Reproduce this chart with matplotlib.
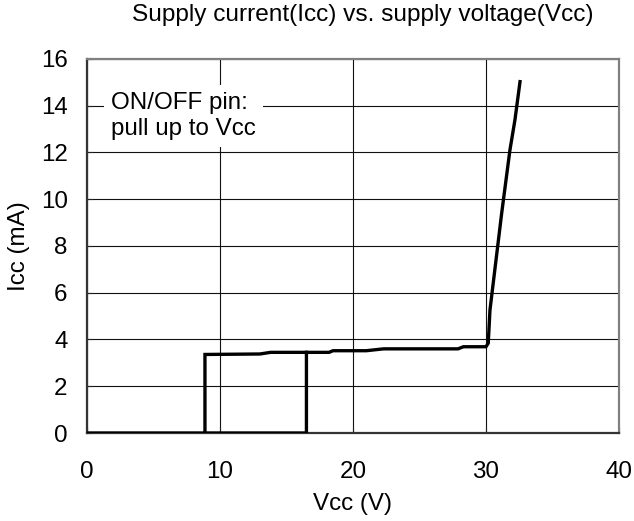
import matplotlib
matplotlib.use("Agg")
import matplotlib.pyplot as plt

plt.rcParams['font.family'] = ['Liberation Sans', 'DejaVu Sans']

# rising branch: off until 16.5 V, then on
vcc_up = [0, 16.5, 16.5, 18.2, 18.5, 21.0, 22.3, 27.9, 28.3, 30.0, 30.17, 30.3, 31.18, 31.8, 32.18, 32.56]
icc_up = [0, 0, 3.45, 3.45, 3.52, 3.52, 3.6, 3.6, 3.69, 3.69, 3.84, 5.26, 9.4, 12.1, 13.4, 15.03]

# falling branch: stays on down to 8.9 V
vcc_down = [16.5, 13.8, 13.0, 8.87, 8.87]
icc_down = [3.45, 3.45, 3.38, 3.36, 0]

fs = 17.4

fig = plt.figure(figsize=(6.34, 5.21), dpi=100)
ax = fig.add_axes([0.1372, 0.1689, 0.8391, 0.7179])

ax.plot(vcc_up, icc_up, color='black', linewidth=2.4, solid_joinstyle='miter', zorder=3)
ax.plot(vcc_down, icc_down, color='black', linewidth=2.4, solid_joinstyle='miter', zorder=3)

ax.set_xlim(0, 40)
ax.set_ylim(0, 16)
ax.set_xticks([0, 10, 20, 30, 40])
ax.set_yticks(range(0, 17, 2))
ax.grid(True, color='#111111', linewidth=0.8)
ax.set_axisbelow(True)
ax.tick_params(direction='in', length=4, labelsize=fs, color='#222222')
ax.tick_params(axis='y', pad=14)
ax.tick_params(axis='x', pad=20)

for s in ['left', 'bottom']:
    ax.spines[s].set_color('#333333')
    ax.spines[s].set_linewidth(1.6)
for s in ['top', 'right']:
    ax.spines[s].set_color('#808080')
    ax.spines[s].set_linewidth(1.6)

ax.text(1.8, 13.56, 'ON/OFF pin:\npull up to Vcc', fontsize=fs, ha='left', va='center',
        linespacing=1.25, zorder=2,
        bbox=dict(boxstyle='square,pad=0.3', facecolor='white', edgecolor='none'))

ax.set_xlabel('Vcc (V)', fontsize=fs, labelpad=7)
ax.set_ylabel('Icc (mA)', fontsize=fs, labelpad=8)
fig.text(0.5726, 0.992, 'Supply current(Icc) vs. supply voltage(Vcc)', fontsize=17.6,
         ha='center', va='top')

fig.savefig('out.png', dpi=100)
